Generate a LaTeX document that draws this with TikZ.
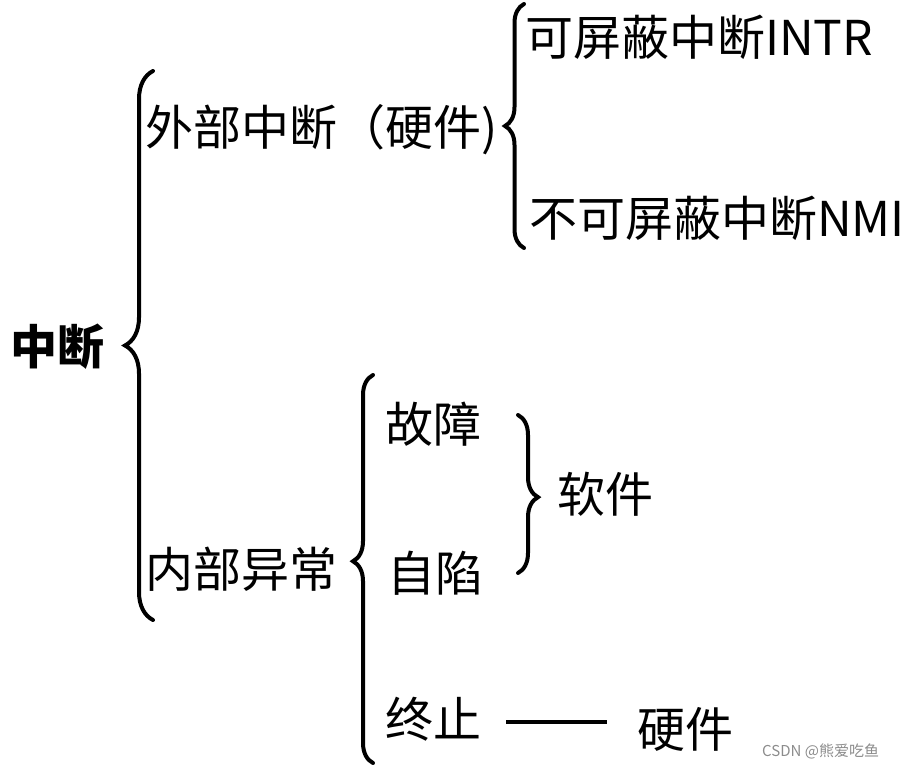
\documentclass[tikz,border=0pt]{standalone}
\usepackage{fontspec}
\setmainfont{Noto Sans CJK SC}
\usepackage{xcolor}
\usepackage{tikz}
\usetikzlibrary{decorations.pathreplacing, positioning}

\begin{document}
\begin{tikzpicture}[
    x=1pt, y=-1pt,
    item_text/.style={anchor=base west, inner sep=0pt, font=\fontsize{48pt}{52pt}\selectfont},
    root_text/.style={anchor=base west, inner sep=0pt, font=\fontsize{47pt}{52pt}\selectfont\bfseries},
    mark_text/.style={anchor=base west, inner sep=0pt, text=black!45, font=\fontsize{15pt}{17pt}\selectfont},
    % Brace styles
    brace_big/.style={draw, line width=4pt, line cap=round, decorate, decoration={brace, amplitude=28pt}},
    brace_mid/.style={draw, line width=4pt, line cap=round, decorate, decoration={brace, amplitude=19pt}},
    brace_low/.style={draw, line width=4pt, line cap=round, decorate, decoration={brace, amplitude=20pt, aspect=0.52}},
    dash_link/.style={draw, line width=4pt, shorten <=25pt, shorten >=30pt}
]
    \useasboundingbox (0,0) rectangle (914,770);

    % =========================================================================
    % ROOT
    % =========================================================================
    \node [root_text] (root) at (10, 364) {中断};
    \draw [brace_big] (153, 620) -- (153, 71);

    % =========================================================================
    % EXTERNAL INTERRUPTS
    % =========================================================================
    \node [item_text] (ext) at (145, 146) {外部中断（硬件)};
    \draw [brace_mid] (524, 248) -- (524, 4);
    \node [item_text] (intr) at (525, 56) {可屏蔽中断INTR};
    \node [item_text] (nmi) at (529, 237) {不可屏蔽中断NMI};

    % =========================================================================
    % INTERNAL EXCEPTIONS
    % =========================================================================
    \node [item_text] (inner) at (145, 587) {内部异常};
    \draw [brace_low] (373, 763) -- (373, 375);
    \node [item_text] (fault) at (385, 442) {故障};
    \node [item_text] (trap) at (387, 591) {自陷};
    \node [item_text] (abort) at (385, 737) {终止};

    \draw [brace_low] (518, 415) -- (518, 573);
    \node [item_text] (soft) at (557, 512) {软件};

    \node [item_text] (hard) at (637, 747) {硬件};
    \draw [dash_link] (abort.east |- 0,722) -- (hard.west |- 0,722);

    \node [mark_text] (mark) at (762, 756) {CSDN @熊爱吃鱼};
\end{tikzpicture}
\end{document}
